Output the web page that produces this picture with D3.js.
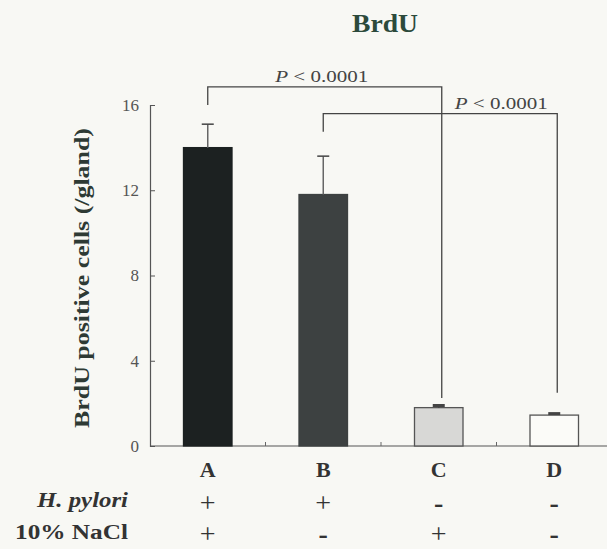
<!DOCTYPE html>
<html>
<head>
<meta charset="utf-8">
<script src="https://cdn.jsdelivr.net/npm/d3@7"></script>
<style>
  html, body { margin: 0; padding: 0; background: #f8f8f4; }
  svg { display: block; }
  svg text { font-family: "Times New Roman", "Liberation Serif", "DejaVu Serif", serif; }
</style>
</head>
<body>
<script>
// BrdU-positive cells per gland, by treatment group
const groups = ["A", "B", "C", "D"];
const means = [14.0, 11.8, 1.8, 1.45];
const errors = [1.1, 1.8, 0.1, 0.07];
const fills = ["#1c2121", "#3d4141", "#d8d8d6", "#fbfbf8"];
const hPylori = ["+", "+", "-", "-"];
const nacl = ["+", "-", "+", "-"];
const yTicks = [0, 4, 8, 12, 16];

// significance brackets: groups compared, bracket level and leg ends (data units)
const brackets = [
  { from: "A", to: "C", level: 16.85, leftEnd: 16.0, rightEnd: 2.25, label: "P < 0.0001" },
  { from: "B", to: "D", level: 15.6, leftEnd: 14.75, rightEnd: 2.5, label: "P < 0.0001" }
];

const W = 607, H = 549;
const svg = d3.select("body").append("svg").attr("width", W).attr("height", H);

const x = d3.scaleBand().domain(groups).range([150, 612]).paddingInner(0.58).paddingOuter(0.29);
const y = d3.scaleLinear().domain([0, 16]).range([446, 105]);

// title
svg.append("text").attr("x", 385).attr("y", 32).attr("text-anchor", "middle")
  .attr("font-size", 26).attr("font-weight", "bold").attr("fill", "#2c4a3b")
  .attr("textLength", 66).attr("lengthAdjust", "spacingAndGlyphs").text("BrdU");

// y axis
const yAxis = d3.axisLeft(y).tickValues(yTicks).tickSize(-5).tickPadding(11);
const gy = svg.append("g").attr("transform", "translate(150,0)").call(yAxis);
gy.attr("font-family", null);
gy.select(".domain").attr("stroke", "#555").attr("stroke-width", 1.2);
gy.selectAll(".tick line").attr("stroke", "#555");
gy.selectAll(".tick text").attr("font-size", 17).attr("fill", "#555");

svg.append("text")
  .attr("transform", "translate(89,278) rotate(-90)")
  .attr("text-anchor", "middle").attr("font-size", 22).attr("font-weight", "bold")
  .attr("fill", "#2e3a34").attr("textLength", 300).attr("lengthAdjust", "spacingAndGlyphs")
  .text("BrdU positive cells (/gland)");

// x baseline with small ticks between groups
svg.append("line").attr("x1", 150).attr("x2", 612).attr("y1", y(0)).attr("y2", y(0))
  .attr("stroke", "#555").attr("stroke-width", 1.2);
const step = x.step();
groups.slice(1).forEach(g => {
  const bx = x(g) - (step - x.bandwidth()) / 2;
  svg.append("line").attr("x1", bx).attr("x2", bx).attr("y1", y(0)).attr("y2", y(0) - 4)
    .attr("stroke", "#666");
});

// bars
svg.selectAll("rect.bar").data(groups).join("rect").attr("class", "bar")
  .attr("x", d => x(d)).attr("width", x.bandwidth())
  .attr("y", (d, i) => y(means[i])).attr("height", (d, i) => y(0) - y(means[i]))
  .attr("fill", (d, i) => fills[i])
  .attr("stroke", (d, i) => i < 2 ? fills[i] : "#555").attr("stroke-width", 1.3);

// error bars
groups.forEach((g, i) => {
  const cx = x(g) + x.bandwidth() / 2;
  svg.append("line").attr("x1", cx).attr("x2", cx).attr("y1", y(means[i])).attr("y2", y(means[i] + errors[i]))
    .attr("stroke", i < 2 ? "#666" : "#444").attr("stroke-width", 1.5);
  svg.append("line").attr("x1", cx - 6).attr("x2", cx + 6)
    .attr("y1", y(means[i] + errors[i])).attr("y2", y(means[i] + errors[i]))
    .attr("stroke", "#444").attr("stroke-width", i < 2 ? 1.5 : 3);
});

// significance brackets
brackets.forEach(b => {
  const x1 = x(b.from) + x.bandwidth() / 2, x2 = x(b.to) + x.bandwidth() / 2 + 3;
  svg.append("path")
    .attr("d", `M${x1},${y(b.leftEnd)}V${y(b.level)}H${x2}V${y(b.rightEnd)}`)
    .attr("fill", "none").attr("stroke", "#444").attr("stroke-width", 1.3);
  const lx = b.from === "A" ? (x1 + x2) / 2 - 3 : x2 - 56;
  svg.append("text").attr("x", lx).attr("y", y(b.level) - 5).attr("text-anchor", "middle")
    .attr("font-size", 16).attr("fill", "#444")
    .attr("textLength", 93).attr("lengthAdjust", "spacingAndGlyphs")
    .html(`<tspan font-style="italic">P</tspan> &lt; 0.0001`);
});

// group letters and treatment rows
const rowText = (vals, yy) => svg.selectAll(null).data(groups).join("text")
  .attr("x", d => x(d) + x.bandwidth() / 2).attr("y", yy).attr("text-anchor", "middle")
  .attr("font-size", 28).attr("fill", "#333")
  .attr("font-weight", (d, i) => vals[i] === "-" ? "bold" : null)
  .text((d, i) => vals[i]);
svg.selectAll(null).data(groups).join("text")
  .attr("x", d => x(d) + x.bandwidth() / 2).attr("y", 477).attr("text-anchor", "middle")
  .attr("font-size", 22).attr("font-weight", "bold").attr("fill", "#333").text(d => d);
rowText(hPylori, 512);
rowText(nacl, 543);

svg.append("text").attr("x", 128).attr("y", 507).attr("text-anchor", "end")
  .attr("font-size", 20).attr("font-weight", "bold").attr("font-style", "italic")
  .attr("fill", "#333").attr("textLength", 91).attr("lengthAdjust", "spacingAndGlyphs").text("H. pylori");
svg.append("text").attr("x", 128).attr("y", 539).attr("text-anchor", "end")
  .attr("font-size", 20).attr("font-weight", "bold").attr("fill", "#333")
  .attr("textLength", 113).attr("lengthAdjust", "spacingAndGlyphs").text("10% NaCl");
</script>
</body>
</html>
